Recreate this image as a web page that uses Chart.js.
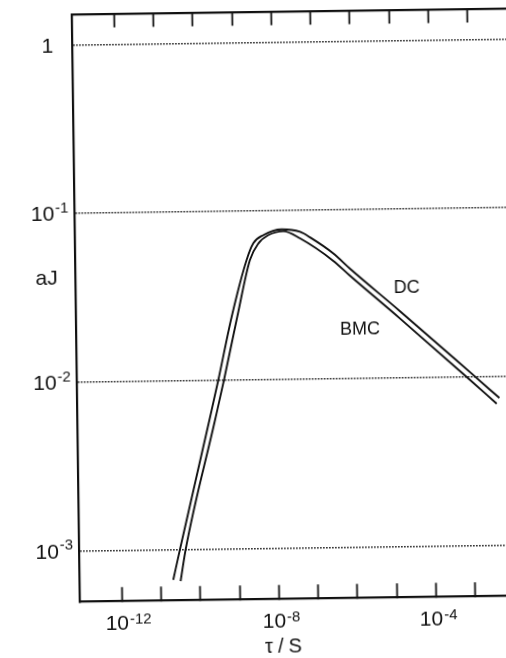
<!DOCTYPE html>
<html>
<head>
<meta charset="utf-8">
<script src="https://cdn.jsdelivr.net/npm/chart.js@4.4.1/dist/chart.umd.min.js"></script>
<style>
  html, body { margin: 0; padding: 0; background: #fff; overflow: hidden; width: 506px; height: 658px; }
  #wrap { position: absolute; left: 0; top: 0; width: 530px; height: 658px;
          transform: rotate(-0.78deg); transform-origin: 253px 329px; }
  canvas { display: block; }
</style>
</head>
<body>
<div id="wrap"><canvas id="c" width="530" height="658"></canvas></div>
<script>
// Relaxation time tau (s) against aJ for the two models
const tauDC = [2.05e-11, 3.11e-11, 1.93e-10, 3.37e-10, 7.78e-10, 1.95e-9, 2.93e-9, 5.30e-9,
               1.57e-8, 4.56e-8, 8.18e-8, 3.16e-7, 8.32e-7, 1.51e-5, 9.33e-4, 4.79e-3];
const ajDC  = [6.62e-4, 1.00e-3, 5.79e-3, 1.00e-2, 2.37e-2, 5.12e-2, 6.43e-2, 7.18e-2,
               7.74e-2, 7.46e-2, 6.90e-2, 5.52e-2, 4.47e-2, 2.48e-2, 1.05e-2, 7.45e-3];

const tauBMC = [3.16e-11, 4.35e-11, 2.69e-10, 4.70e-10, 1.08e-9, 2.37e-9, 3.93e-9, 7.10e-9,
                1.72e-8, 4.56e-8, 3.14e-7, 8.26e-7, 1.51e-5, 7.08e-4, 4.07e-3];
const ajBMC  = [6.50e-4, 1.00e-3, 5.79e-3, 1.00e-2, 2.37e-2, 5.12e-2, 6.41e-2, 7.18e-2,
                7.55e-2, 6.82e-2, 4.99e-2, 4.06e-2, 2.24e-2, 1.00e-2, 6.90e-3];

// Axes: decade tick marks and the labelled decades
const xTickValues = [1e-12, 1e-11, 1e-10, 1e-9, 1e-8, 1e-7, 1e-6, 1e-5, 1e-4, 1e-3];
const xLabelValues = [1e-12, 1e-8, 1e-4];
const xLabelExponents = ['-12', '-8', '-4'];
const yTickValues = [1, 0.1, 0.01, 0.001];
const yLabelBases = ['1', '10', '10', '10'];
const yLabelExponents = ['', '-1', '-2', '-3'];
const xTitle = 'τ/S';
const yTitle = 'aJ';
const seriesNames = ['DC', 'BMC'];

// Where each series name sits, in data coordinates (tau, aJ)
const nameAnchors = [[2.29e-5, 0.0345], [1.43e-6, 0.0199]];
const yTitleAnchor = 0.042;

const FAM = '"Liberation Sans", Arial, "DejaVu Sans", sans-serif';
const INK = '#111';

const textPlugin = {
  id: 'axisText',
  afterDraw(chart) {
    const { ctx, chartArea } = chart;
    const x = chart.scales.x, y = chart.scales.y;
    ctx.save();
    ctx.fillStyle = INK;
    ctx.textAlign = 'left';
    ctx.textBaseline = 'alphabetic';

    // x tick labels: 10 with a raised exponent
    xLabelValues.forEach((v, i) => {
      const px = x.getPixelForValue(v);
      const by = chartArea.bottom + 29;
      ctx.font = '21px ' + FAM;
      const wb = ctx.measureText('10').width;
      const left = px - 5 - wb / 2;
      ctx.fillText('10', left, by);
      ctx.font = '15px ' + FAM;
      ctx.fillText(xLabelExponents[i], left + wb + 1, by - 6);
    });

    // y tick labels
    yTickValues.forEach((v, i) => {
      const py = y.getPixelForValue(v);
      ctx.font = '21px ' + FAM;
      const wb = ctx.measureText(yLabelBases[i]).width;
      ctx.font = '15px ' + FAM;
      const we = yLabelExponents[i] ? ctx.measureText(yLabelExponents[i]).width + 1 : 0;
      const left = chartArea.left - 25 - (wb + we) / 2;
      ctx.font = '21px ' + FAM;
      ctx.fillText(yLabelBases[i], left, py + 7.5);
      if (yLabelExponents[i]) {
        ctx.font = '15px ' + FAM;
        ctx.fillText(yLabelExponents[i], left + wb + 1, py - 1);
      }
    });

    // axis titles
    ctx.textAlign = 'center';
    ctx.font = '20px ' + FAM;
    if ('letterSpacing' in ctx) ctx.letterSpacing = '5px';
    ctx.fillText(xTitle, (chartArea.left + chartArea.right) / 2 - 12, chartArea.bottom + 54);
    if ('letterSpacing' in ctx) ctx.letterSpacing = '0px';
    ctx.font = '21px ' + FAM;
    ctx.fillText(yTitle, chartArea.left - 29, y.getPixelForValue(yTitleAnchor) + 7);

    // series names beside the curves
    ctx.font = '18px ' + FAM;
    seriesNames.forEach((name, i) => {
      const px = x.getPixelForValue(nameAnchors[i][0]);
      const py = y.getPixelForValue(nameAnchors[i][1]);
      ctx.fillText(name, px, py + 6.5);
    });
    ctx.restore();
  }
};

const toPoints = (xs, ys) => xs.map((t, i) => ({ x: t, y: ys[i] }));
const lineStyle = { borderColor: INK, borderWidth: 1.9, pointRadius: 0, fill: false,
                    cubicInterpolationMode: 'monotone' };

const decadeTicks = (scale) => { scale.ticks = xTickValues.map(v => ({ value: v })); };
const X_MIN = 8.5e-14, X_MAX = 1e-2;

new Chart(document.getElementById('c').getContext('2d'), {
  type: 'line',
  data: {
    datasets: [
      Object.assign({ label: seriesNames[0], data: toPoints(tauDC, ajDC) }, lineStyle),
      Object.assign({ label: seriesNames[1], data: toPoints(tauBMC, ajBMC) }, lineStyle)
    ]
  },
  options: {
    responsive: false,
    animation: false,
    devicePixelRatio: 1,
    layout: { padding: { left: 0, top: 0, right: 19, bottom: 0 } },
    plugins: { legend: { display: false }, tooltip: { enabled: false } },
    scales: {
      x: {
        type: 'logarithmic', position: 'bottom', min: X_MIN, max: X_MAX,
        afterBuildTicks: decadeTicks,
        afterFit: (s) => { s.height = 58.7; },
        ticks: { display: false },
        grid: { drawOnChartArea: false, drawTicks: true, tickLength: -14, tickColor: INK, tickWidth: 1.8 },
        border: { display: true, color: INK, width: 2.2 }
      },
      xTop: {
        type: 'logarithmic', position: 'top', min: X_MIN, max: X_MAX,
        afterBuildTicks: decadeTicks,
        afterFit: (s) => { s.height = 12.5; },
        ticks: { display: false },
        grid: { drawOnChartArea: false, drawTicks: true, tickLength: -13, tickColor: INK, tickWidth: 1.8 },
        border: { display: true, color: INK, width: 2.2 }
      },
      y: {
        type: 'logarithmic', position: 'left', min: 5e-4, max: 1.5,
        afterBuildTicks: (s) => { s.ticks = yTickValues.map(v => ({ value: v })); },
        afterFit: (s) => { s.width = 76.3; },
        ticks: { display: false },
        grid: { drawTicks: false, color: '#000', lineWidth: 1.4 },
        border: { display: true, color: INK, width: 2.2, dash: [1.4, 1.6] }
      }
    }
  },
  plugins: [textPlugin]
});
</script>
</body>
</html>
